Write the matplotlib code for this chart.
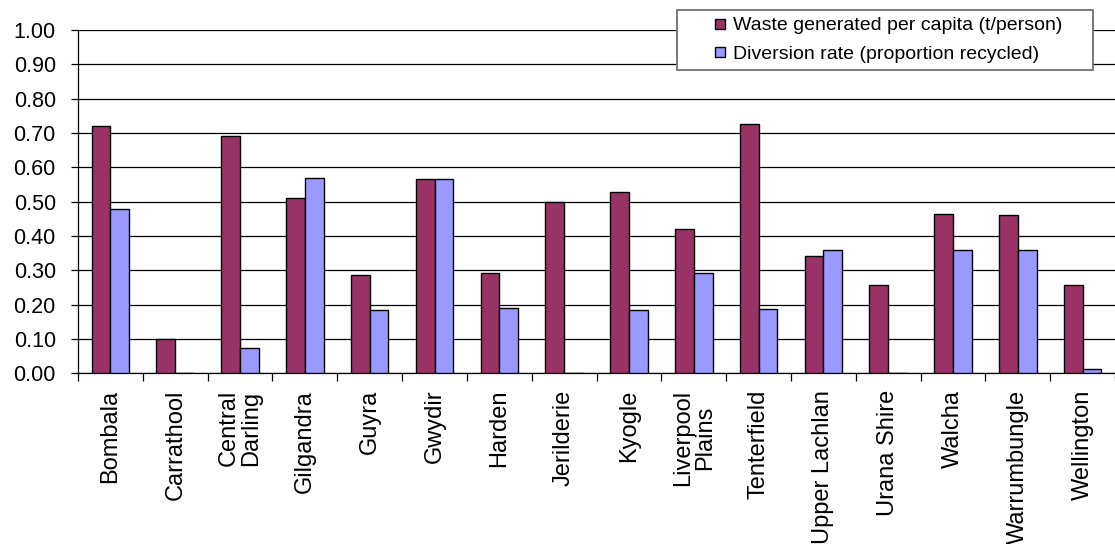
import numpy as np
import matplotlib.pyplot as plt
from matplotlib.lines import Line2D
from matplotlib.ticker import MultipleLocator, FixedLocator

plt.rcParams['font.family'] = ['Liberation Sans', 'DejaVu Sans']

# Councils and their two indicators
councils = ['Bombala', 'Carrathool', 'Central\nDarling', 'Gilgandra', 'Guyra', 'Gwydir',
            'Harden', 'Jerilderie', 'Kyogle', 'Liverpool\nPlains', 'Tenterfield',
            'Upper Lachlan', 'Urana Shire', 'Walcha', 'Warrumbungle', 'Wellington']
waste_per_capita = [0.72, 0.10, 0.69, 0.51, 0.285, 0.567, 0.292, 0.50, 0.527, 0.421,
                    0.725, 0.342, 0.258, 0.465, 0.46, 0.258]
diversion_rate = [0.478, 0.0, 0.072, 0.569, 0.183, 0.567, 0.191, 0.0, 0.183, 0.292,
                  0.187, 0.36, 0.0, 0.36, 0.36, 0.011]

series_labels = ['Waste generated per capita (t/person)',
                 'Diversion rate (proportion recycled)']
series_colors = ['#993366', '#9999FF']

fig = plt.figure(figsize=(11.15, 5.44), dpi=100)
ax = fig.add_axes([0.07, 0.314, 0.93, 0.631])

x = np.arange(len(councils))
w = 0.29
ax.bar(x - w / 2, waste_per_capita, w, color=series_colors[0], edgecolor='black',
       linewidth=1, zorder=3)
ax.bar(x + w / 2, diversion_rate, w, color=series_colors[1], edgecolor='black',
       linewidth=1, zorder=3)

ax.set_xlim(-0.5, len(councils) - 0.5)
ax.set_ylim(0, 1.0)
ax.yaxis.set_major_locator(MultipleLocator(0.1))
ax.yaxis.set_major_formatter(plt.FuncFormatter(lambda v, _: f'{v:.2f}'))
ax.grid(axis='y', color='black', linewidth=0.9, zorder=0)

# category labels at centres, tick marks at the boundaries
ax.set_xticks(x)
ax.set_xticklabels(councils, rotation=90, ha='center', va='top', fontsize=17,
                   linespacing=1.0)
ax.xaxis.set_minor_locator(FixedLocator(np.arange(-0.5, len(councils), 1)))
ax.tick_params(axis='x', which='major', length=0, pad=12)
ax.tick_params(axis='x', which='minor', length=6, width=0.9, direction='out')
ax.tick_params(axis='y', length=5, width=0.9, labelsize=15.5, pad=11)

for side in ('top', 'right'):
    ax.spines[side].set_visible(False)
ax.spines['left'].set_linewidth(0.9)
ax.spines['bottom'].set_linewidth(0.9)

# square swatches for the legend
handles = [Line2D([], [], linestyle='none', marker='s', markersize=7.5,
                  markerfacecolor=c, markeredgecolor='black', markeredgewidth=1)
           for c in series_colors]
leg = fig.legend(handles, series_labels, loc='upper left',
                 bbox_to_anchor=(0.6072, 0.855, 0.3731, 0.1266), mode='expand',
                 fontsize=14, frameon=True, fancybox=False, edgecolor='#707070',
                 framealpha=1, handlelength=3.7, handletextpad=-1.15,
                 labelspacing=0.55, borderpad=0.35, borderaxespad=0)
leg.get_frame().set_linewidth(1.3)

fig.savefig('out.png', dpi=100)
